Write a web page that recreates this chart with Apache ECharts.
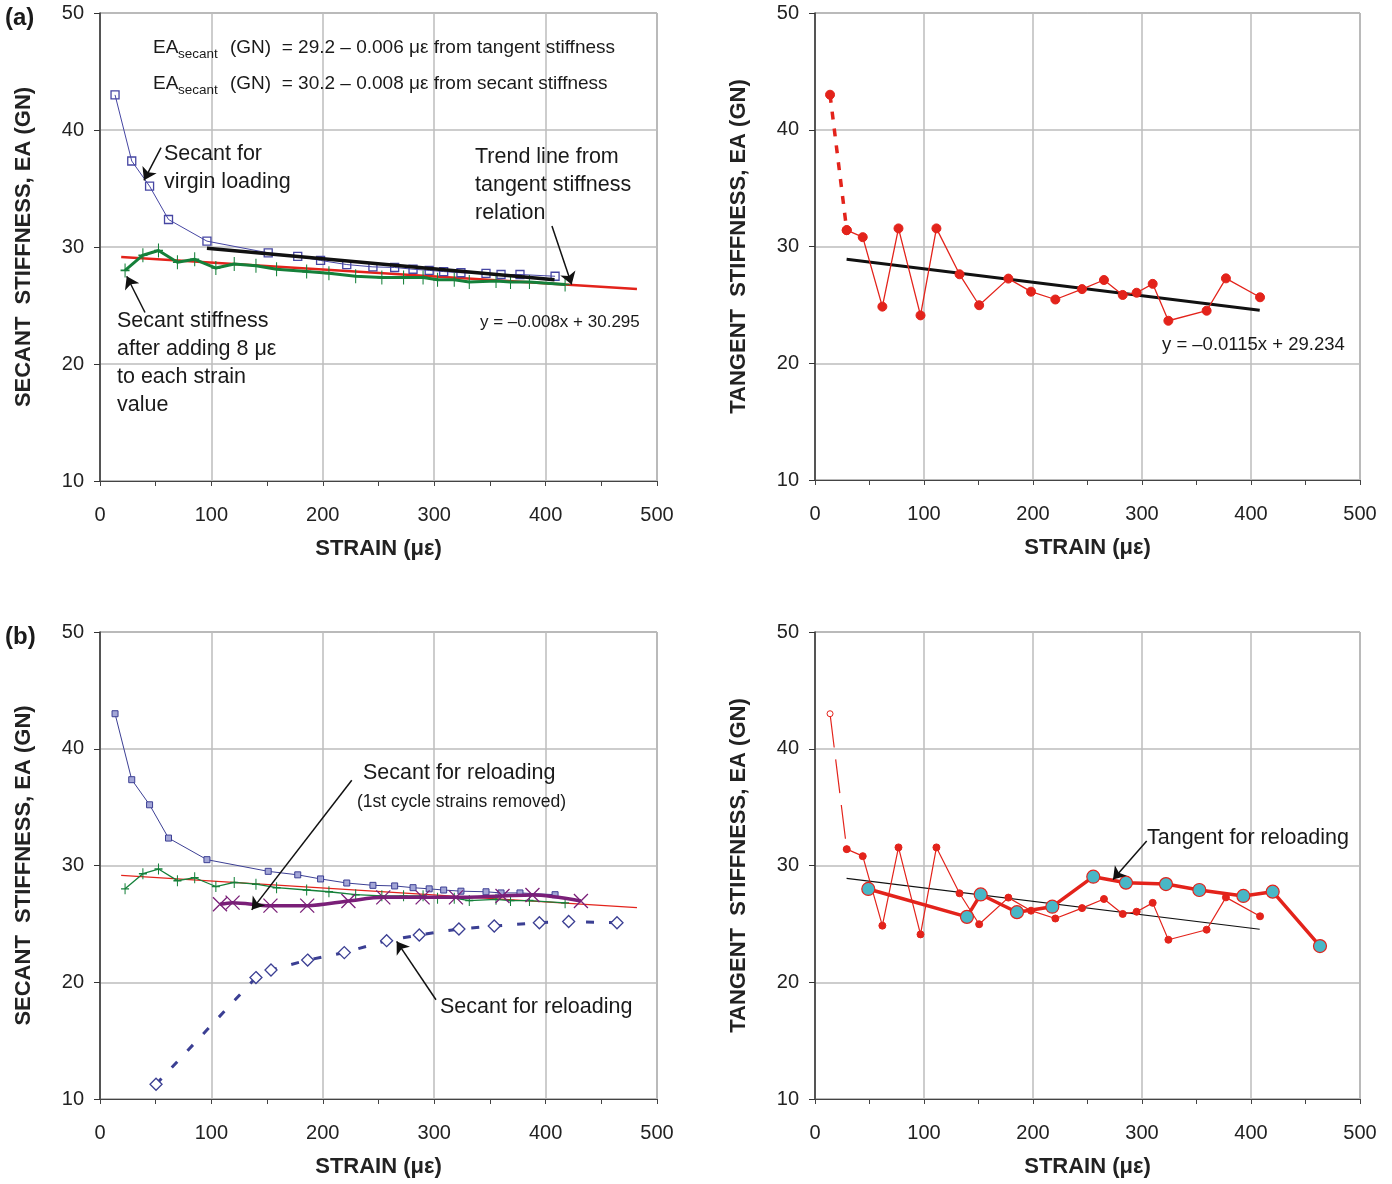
<!DOCTYPE html>
<html>
<head>
<meta charset="utf-8">
<script src="https://cdn.jsdelivr.net/npm/echarts@6/dist/echarts.min.js"></script>
<style>
  html, body { margin: 0; background: #fff; }
  #chart { width: 1392px; height: 1184px; }
</style>
</head>
<body>
<div id="chart"></div>
<script>
// strain in µε, stiffness EA in GN
var virginX = [13.5, 28.5, 44.5, 61.5, 96, 151, 177.5, 198, 221.5, 245, 264.5, 281, 295.5, 308.5, 324, 346.5, 360, 377, 408.5];
var virginY = [43.0, 37.35, 35.2, 32.35, 30.5, 29.5, 29.2, 28.85, 28.5, 28.3, 28.25, 28.1, 28.0, 27.9, 27.8, 27.75, 27.65, 27.65, 27.5];

var shiftedX = [22.5, 38.5, 52.5, 69.5, 85, 104, 120.5, 140, 158.5, 185.5, 205.5, 229.5, 253, 272.5, 290, 303, 318, 331.5, 355.5, 368.5, 385.5, 417.5];
var shiftedY = [28.0, 29.3, 29.7, 28.7, 28.95, 28.2, 28.55, 28.4, 28.1, 27.9, 27.75, 27.5, 27.4, 27.4, 27.4, 27.2, 27.2, 27.0, 27.1, 27.0, 27.0, 26.8];

var tangentX = [13.8, 29.1, 43.8, 61.8, 76.6, 96.8, 111.4, 132.6, 150.6, 177.4, 198.2, 220.5, 245, 265.1, 282.3, 295.1, 309.8, 324.2, 359.3, 377, 408.3];
var tangentY = [43.0, 31.4, 30.8, 24.85, 31.55, 24.1, 31.55, 27.62, 24.97, 27.25, 26.13, 25.46, 26.35, 27.13, 25.85, 26.04, 26.8, 23.64, 24.5, 27.27, 25.65];

// secant for reloading, 1st cycle strains removed
var reloadCutX = [107.7, 119, 153, 186, 223, 254.3, 289.6, 319.5, 361.3, 388.2, 431.7];
var reloadCutY = [26.68, 26.82, 26.56, 26.56, 26.96, 27.27, 27.27, 27.27, 27.39, 27.47, 26.96];

// secant for reloading
var reloadSecX = [50.3, 140, 153.5, 186.4, 219.3, 257.3, 286.6, 322.2, 353.9, 394.4, 420.7, 464.1];
var reloadSecY = [11.26, 20.4, 21.05, 21.9, 22.54, 23.56, 24.05, 24.56, 24.82, 25.1, 25.2, 25.1];

// tangent for reloading
var reloadTanX = [48.9, 139.4, 152, 185.3, 217.7, 255.3, 285.3, 322, 352.6, 393, 419.9, 463.3];
var reloadTanY = [27.99, 25.6, 27.52, 26.0, 26.47, 29.04, 28.53, 28.41, 27.9, 27.39, 27.76, 23.1];

// trend lines (end points)
var tangentFitX = [19, 482];     // EA = 29.2 - 0.006 µε
var tangentFitY = [29.15, 26.4];
var secantFitX = [96, 408];       // y = -0.008x + 30.295
var secantFitY = [29.9, 27.2];
var tanTrendX = [29, 408];        // y = -0.0115x + 29.234
var tanTrendY = [28.9, 24.54];

var xTicks = [0, 100, 200, 300, 400, 500];
var yTicks = [10, 20, 30, 40, 50];

function pairs(xs, ys, a, b) {
  var out = [];
  for (var i = 0; i < xs.length; i++) out.push([xs[i], ys[i]]);
  return out.slice(a || 0, b === undefined ? out.length : b);
}

var FONT = '"Liberation Sans", Arial, Helvetica, sans-serif';
var RED = '#e3231b';
var GREEN = '#15803a';
var PURPLE = '#7a1f78';
var PLUS = 'path://M5,0L5,14M0,7L10,7';
var CROSS = 'path://M0,0L10,10M10,0L0,10';

var grids = [
  { left: 100, top: 13, width: 557, height: 468 },
  { left: 815, top: 13, width: 545, height: 467 },
  { left: 100, top: 632, width: 557, height: 467 },
  { left: 815, top: 632, width: 545, height: 467 }
].map(function (g) {
  g.show = true;
  g.borderColor = '#666';
  g.borderWidth = 1;
  return g;
});

var gridLine = { show: true, lineStyle: { color: '#bcbcbc', width: 1.5 } };

var xAxes = grids.map(function (g, i) {
  return {
    gridIndex: i, type: 'value', min: xTicks[0], max: xTicks[xTicks.length - 1], interval: 100,
    name: 'STRAIN (\u03bc\u03b5)', nameLocation: 'middle', nameGap: 57,
    nameTextStyle: { fontFamily: FONT, fontSize: 22, fontWeight: 'bold', color: '#222' },
    axisLine: { lineStyle: { color: '#444', width: 1.2 } },
    axisTick: { show: true, length: 5, lineStyle: { color: '#444' } },
    minorTick: { show: true, splitNumber: 2, length: 5, lineStyle: { color: '#444' } },
    axisLabel: { margin: 24, fontFamily: FONT, fontSize: 20, color: '#222' },
    splitLine: gridLine
  };
});

var yAxes = grids.map(function (g, i) {
  return {
    gridIndex: i, type: 'value', min: yTicks[0], max: yTicks[yTicks.length - 1], interval: 10,
    name: i % 2 === 0 ? 'SECANT  STIFFNESS, EA (GN)' : 'TANGENT  STIFFNESS, EA (GN)',
    nameLocation: 'middle', nameGap: 65,
    nameTextStyle: { fontFamily: FONT, fontSize: 22, fontWeight: 'bold', color: '#222' },
    axisLine: { show: true, lineStyle: { color: '#333', width: 1.5 } },
    axisTick: { show: true, length: 6, lineStyle: { color: '#333' } },
    axisLabel: { margin: 16, fontFamily: FONT, fontSize: 20, color: '#222' },
    splitLine: gridLine
  };
});

function line(gi, data, opt) {
  var s = {
    type: 'line', xAxisIndex: gi, yAxisIndex: gi, data: data,
    symbol: 'none', z: 3,
    lineStyle: { color: opt.color, width: opt.width || 1, type: opt.dash || 'solid' },
    itemStyle: { color: opt.fill || opt.color, borderColor: opt.color, borderWidth: opt.bw || 1 }
  };
  if (opt.symbol) { s.symbol = opt.symbol; s.symbolSize = opt.size; s.showAllSymbol = true; }
  if (opt.smooth) s.smooth = opt.smooth;
  if (opt.z) s.z = opt.z;
  return s;
}

function arrows(gi, list) {
  return {
    type: 'lines', coordinateSystem: 'cartesian2d', xAxisIndex: gi, yAxisIndex: gi, z: 6,
    symbol: ['none', 'arrow'], symbolSize: [7, 12],
    lineStyle: { color: '#111', width: 1.5, opacity: 1 },
    data: list.map(function (c) { return { coords: c }; })
  };
}

var series = [
  // (a) secant
  line(0, pairs(tangentFitX, tangentFitY), { color: RED, width: 2.5, z: 3 }),
  line(0, pairs(shiftedX, shiftedY), { color: GREEN, width: 3, symbol: PLUS, size: [9, 14], bw: 1.3, z: 4 }),
  line(0, pairs(virginX, virginY), { color: '#4646a3', width: 1, symbol: 'rect', size: 8, fill: 'rgba(255,255,255,0)', bw: 1.3, z: 4 }),
  line(0, pairs(secantFitX, secantFitY), { color: '#111', width: 3.5, z: 5 }),
  arrows(0, [
    [[54.8, 38.5], [39.5, 35.7]],
    [[405.7, 31.8], [423.4, 26.8]],
    [[40.4, 24.4], [24, 27.5]]
  ]),
  // (a) tangent
  line(1, pairs(tangentX, tangentY, 0, 2), { color: RED, width: 3.5, dash: [8, 9], symbol: 'circle', size: 9 }),
  line(1, pairs(tangentX, tangentY, 1), { color: RED, width: 1.3, symbol: 'circle', size: 9, z: 4 }),
  line(1, pairs(tanTrendX, tanTrendY), { color: '#111', width: 3, z: 3 }),
  // (b) secant
  line(2, pairs(tangentFitX, tangentFitY), { color: RED, width: 1.2, z: 3 }),
  line(2, pairs(shiftedX, shiftedY), { color: GREEN, width: 1.3, symbol: PLUS, size: [8, 11], bw: 1.2, z: 4 }),
  line(2, pairs(virginX, virginY), { color: '#3c3f94', width: 1, symbol: 'rect', size: 6, fill: '#a3a6d6', bw: 1, z: 4 }),
  line(2, pairs(reloadCutX, reloadCutY), { color: PURPLE, width: 3.5, smooth: 0.3, symbol: CROSS, size: 14, bw: 1.3, z: 5 }),
  line(2, pairs(reloadSecX, reloadSecY), { color: '#3b3f93', width: 3, dash: [8, 15], symbol: 'diamond', size: 12, fill: '#fff', bw: 1.3, z: 4 }),
  arrows(2, [
    [[226, 37.3], [136.2, 26.2]],
    [[301.6, 18.5], [266.3, 23.5]]
  ]),
  // (b) tangent
  line(3, pairs(tangentX, tangentY, 0, 2), { color: RED, width: 1.2, dash: [34, 12], symbol: 'circle', size: 6, fill: '#fff' }),
  line(3, pairs(tangentX, tangentY, 1), { color: RED, width: 1.2, symbol: 'circle', size: 7, z: 4 }),
  line(3, pairs(tanTrendX, tanTrendY), { color: '#111', width: 1.2, z: 3 }),
  line(3, pairs(reloadTanX, reloadTanY), { color: RED, width: 3.5, symbol: 'circle', size: 13, fill: '#48b7c6', bw: 1.2, z: 5 }),
  arrows(3, [
    [[304.3, 32.1], [273.4, 28.8]]
  ])
];

function txt(x, y, text, size, extra) {
  var st = { text: text, x: x, y: y, fontFamily: FONT, fontSize: size, fill: '#1a1a1a', textVerticalAlign: 'middle' };
  if (extra) for (var k in extra) st[k] = extra[k];
  return { type: 'text', z: 20, style: st };
}

var NOTE = 21.5;
var graphics = [
  txt(5, 18, '(a)', 24, { fontWeight: 'bold' }),
  txt(5, 637, '(b)', 24, { fontWeight: 'bold' }),
  txt(153, 48, 'EA', 19),
  txt(178, 54, 'secant', 13.5),
  txt(230, 48, '(GN)  = 29.2 \u2013 0.006 \u03bc\u03b5 from tangent stiffness', 19),
  txt(153, 84, 'EA', 19),
  txt(178, 90, 'secant', 13.5),
  txt(230, 84, '(GN)  = 30.2 \u2013 0.008 \u03bc\u03b5 from secant stiffness', 19),
  txt(164, 168, 'Secant for\nvirgin loading', NOTE, { lineHeight: 28 }),
  txt(475, 185, 'Trend line from\ntangent stiffness\nrelation', NOTE, { lineHeight: 28 }),
  txt(117, 363, 'Secant stiffness\nafter adding 8 \u03bc\u03b5\nto each strain\nvalue', NOTE, { lineHeight: 28 }),
  txt(480, 322, 'y = \u20130.008x + 30.295', 17),
  txt(1162, 345, 'y = \u20130.0115x + 29.234', 18.5),
  txt(363, 773, 'Secant for reloading', NOTE),
  txt(357, 802, '(1st cycle strains removed)', 17.5),
  txt(440, 1007, 'Secant for reloading', NOTE),
  txt(1147, 838, 'Tangent for reloading', NOTE)
];

var chart = echarts.init(document.getElementById('chart'));
chart.setOption({
  backgroundColor: '#fff',
  animation: false,
  grid: grids,
  xAxis: xAxes,
  yAxis: yAxes,
  series: series,
  graphic: graphics
});
</script>
</body>
</html>
